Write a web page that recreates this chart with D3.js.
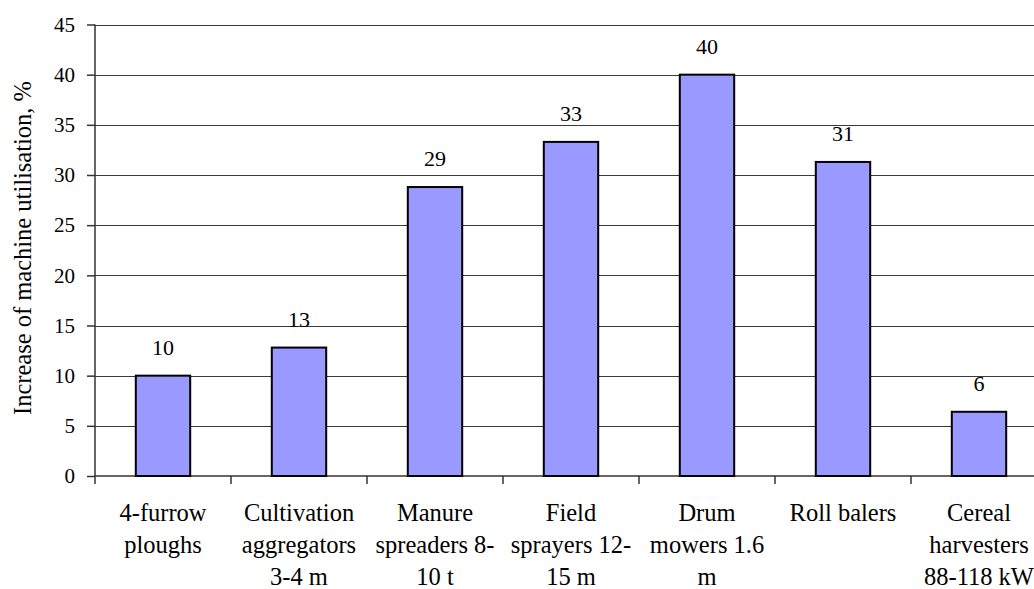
<!DOCTYPE html>
<html>
<head>
<meta charset="utf-8">
<script src="https://cdn.jsdelivr.net/npm/d3@7"></script>
<style>
  html, body { margin: 0; padding: 0; background: #fff; }
  svg text { font-family: "Liberation Serif", "Times New Roman", Times, "DejaVu Serif", serif; fill: #000; }
</style>
</head>
<body>
<svg id="chart" width="1034" height="589"></svg>
<script>
// Machine types (one entry per wrapped label line)
const categories = [
  ["4-furrow", "ploughs"],
  ["Cultivation", "aggregators", "3-4 m"],
  ["Manure", "spreaders 8-", "10 t"],
  ["Field", "sprayers 12-", "15 m"],
  ["Drum", "mowers 1.6", "m"],
  ["Roll balers"],
  ["Cereal", "harvesters", "88-118 kW"]
];
// Increase of machine utilisation, %
const values = [10.0, 12.8, 28.8, 33.3, 40.0, 31.3, 6.4];
const yTicks = [0, 5, 10, 15, 20, 25, 30, 35, 40, 45];
const yTitle = "Increase of machine utilisation, %";

const svg = d3.select("#chart");
const margin = { left: 95, top: 24.5, bottom: 476 };
const plotRight = 95 + 136 * 7;

const x = d3.scaleBand()
  .domain(d3.range(values.length))
  .range([margin.left, plotRight])
  .paddingInner(0.6)
  .paddingOuter(0.3);

const y = d3.scaleLinear()
  .domain([0, 45])
  .range([margin.bottom, margin.top]);

// Horizontal gridlines
svg.append("g")
  .selectAll("line")
  .data(yTicks.filter(d => d > 0))
  .join("line")
  .attr("x1", margin.left).attr("x2", plotRight)
  .attr("y1", d => Math.round(y(d)) + 0.5).attr("y2", d => Math.round(y(d)) + 0.5)
  .attr("stroke", "#3a3a3a")
  .attr("stroke-width", 1);

// Y axis
const yAxis = svg.append("g")
  .attr("transform", `translate(${margin.left},0)`)
  .call(d3.axisLeft(y).tickValues(yTicks).tickSize(8).tickPadding(12).tickSizeOuter(0));
yAxis.attr("font-family", null).attr("font-size", null);
yAxis.select(".domain").remove();
yAxis.selectAll(".tick line").attr("stroke", "#333").attr("stroke-width", 1.5);
yAxis.selectAll(".tick text").attr("fill", "#000").style("font-size", "21px");
svg.append("line")
  .attr("x1", margin.left).attr("x2", margin.left)
  .attr("y1", margin.top).attr("y2", margin.bottom + 8)
  .attr("stroke", "#333").attr("stroke-width", 1.5);

// X axis baseline with category boundary ticks
svg.append("line")
  .attr("x1", margin.left).attr("x2", plotRight)
  .attr("y1", margin.bottom).attr("y2", margin.bottom)
  .attr("stroke", "#333").attr("stroke-width", 1.5);
svg.append("g")
  .selectAll("line")
  .data(d3.range(1, values.length + 1))
  .join("line")
  .attr("x1", i => x(i - 1) + x.bandwidth() + x.step() * x.paddingInner() / 2)
  .attr("x2", i => x(i - 1) + x.bandwidth() + x.step() * x.paddingInner() / 2)
  .attr("y1", margin.bottom).attr("y2", margin.bottom + 8)
  .attr("stroke", "#333").attr("stroke-width", 1.5);

// Bars
svg.append("g")
  .selectAll("rect")
  .data(values)
  .join("rect")
  .attr("x", (d, i) => x(i))
  .attr("y", d => y(d))
  .attr("width", x.bandwidth())
  .attr("height", d => y(0) - y(d))
  .attr("fill", "#9999ff")
  .attr("stroke", "#000")
  .attr("stroke-width", 2);

// Value labels
svg.append("g")
  .selectAll("text")
  .data(values)
  .join("text")
  .attr("x", (d, i) => x(i) + x.bandwidth() / 2)
  .attr("y", d => y(d) - 21)
  .attr("text-anchor", "middle")
  .style("font-size", "22px")
  .text(d => d3.format(".0f")(d));

// Category labels
const catG = svg.append("g")
  .selectAll("text")
  .data(categories)
  .join("text")
  .attr("text-anchor", "middle")
  .style("font-size", "24.5px")
  .attr("transform", (d, i) => `translate(${x(i) + x.bandwidth() / 2},521)`);
catG.selectAll("tspan")
  .data(d => d)
  .join("tspan")
  .attr("x", 0)
  .attr("y", (d, j) => j * 32)
  .text(d => d);

// Y axis title
svg.append("text")
  .attr("transform", "translate(31,248) rotate(-90)")
  .attr("text-anchor", "middle")
  .style("font-size", "24.5px")
  .text(yTitle);
</script>
</body>
</html>
